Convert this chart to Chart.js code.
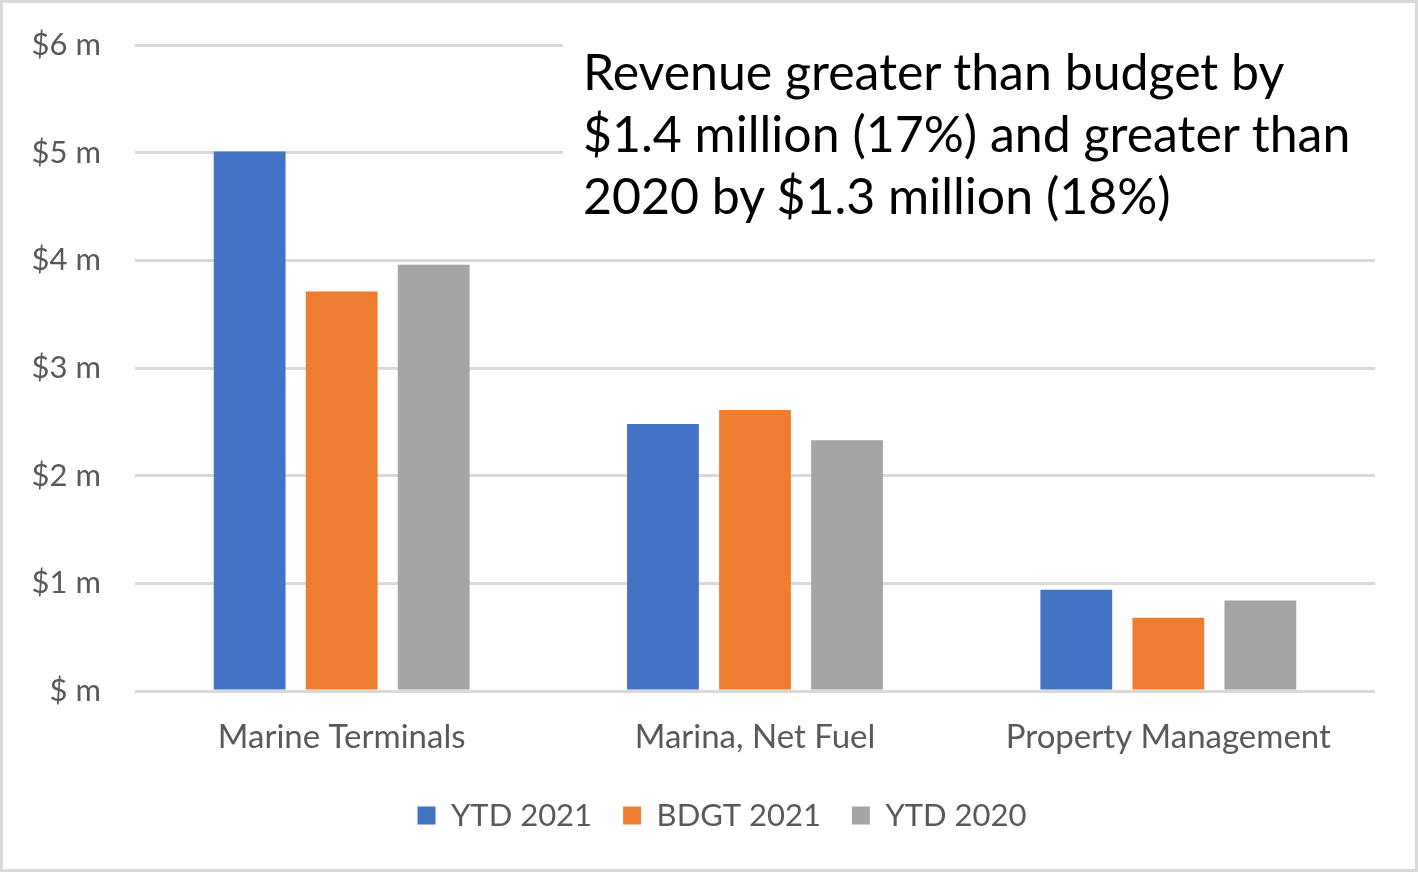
<!DOCTYPE html>
<html>
<head>
<meta charset="utf-8">
<script src="https://cdn.jsdelivr.net/npm/chart.js@4.4.1/dist/chart.umd.min.js"></script>
<style>
  html, body { margin: 0; padding: 0; background: #fff; }
  #wrap { position: relative; width: 1418px; height: 872px; overflow: hidden; }
  #frame { position: absolute; left: 0; top: 0; width: 1418px; height: 872px; box-sizing: border-box;
           border: 3px solid #d9d9d9; pointer-events: none; }
  #note { position: absolute; left: 563px; top: 38px; width: 812px; height: 196px; background: #fff;
          box-sizing: border-box; padding-left: 20px; padding-top: 2px;
          font-family: Lato, "Open Sans", sans-serif; font-size: 50px; line-height: 62px; color: #000; }
</style>
</head>
<body>
<div id="wrap">
  <canvas id="revChart" width="1418" height="872"></canvas>
  <div id="note">Revenue greater than budget by<br>$1.4 million (17%) and greater than<br>2020 by $1.3 million (18%)</div>
  <div id="frame"></div>
</div>
<script>
// valeurs (millions $)
const categories = ['Marine Terminals', 'Marina, Net Fuel', 'Property Management'];
const ytd2021 = [5.01, 2.48, 0.94];
const bdgt2021 = [3.71, 2.61, 0.68];
const ytd2020 = [3.96, 2.33, 0.84];
const yTicks = [0, 1, 2, 3, 4, 5, 6];

const grey = '#595959';
const fontName = 'Lato, "Open Sans", sans-serif';

// décale un peu la légende vers la droite, comme dans Excel
const legendShift = {
  id: 'legendShift',
  afterUpdate(chart) {
    chart.legend.left += 33;
    chart.legend.right += 33;
  }
};

function createRevenueChart() {
  const ctx = document.getElementById('revChart').getContext('2d');
  return new Chart(ctx, {
    type: 'bar',
    data: {
      labels: categories,
      datasets: [
        { label: 'YTD 2021', data: ytd2021, backgroundColor: '#4472C4' },
        { label: 'BDGT 2021', data: bdgt2021, backgroundColor: '#ED7D31' },
        { label: 'YTD 2020', data: ytd2020, backgroundColor: '#A5A5A5' }
      ]
    },
    plugins: [legendShift],
    options: {
      responsive: false,
      animation: false,
      devicePixelRatio: 1,
      datasets: { bar: { categoryPercentage: 0.668, barPercentage: 0.78 } },
      layout: { padding: { left: 3, right: 43, top: 45, bottom: 31 } },
      plugins: {
        tooltip: { enabled: false },
        legend: {
          position: 'bottom',
          labels: {
            color: grey,
            font: { family: fontName, size: 31 },
            boxWidth: 18,
            boxHeight: 18,
            padding: 31
          }
        }
      },
      scales: {
        x: {
          grid: { display: false, drawTicks: false },
          border: { display: false },
          afterFit: (axis) => { axis.height = 78; },
          ticks: { color: grey, font: { family: fontName, size: 33 }, padding: 27 }
        },
        y: {
          min: 0,
          max: 6,
          afterBuildTicks: (axis) => { axis.ticks = yTicks.map(v => ({ value: v })); },
          afterFit: (axis) => {
            axis.width = 132;
            axis.paddingTop = 0;
            axis.paddingBottom = 0;
          },
          grid: { color: '#d9d9d9', lineWidth: 3, drawTicks: false },
          border: { display: false },
          ticks: {
            color: grey,
            font: { family: fontName, size: 31 },
            padding: 34,
            callback: (v) => v === 0 ? '$ m' : '$' + v + ' m'
          }
        }
      }
    }
  });
}

createRevenueChart();
</script>
</body>
</html>
